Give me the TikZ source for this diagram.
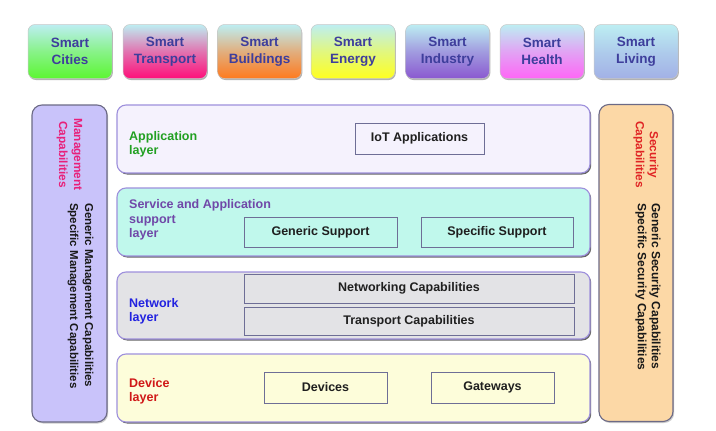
\documentclass[tikz,border=0pt]{standalone}
\usepackage{fontspec}
\setmainfont{Liberation Sans}
\usetikzlibrary{shadows}
\definecolor{topcyan}{HTML}{BDEEF2}
\definecolor{smarttext}{HTML}{3E3E9C}
\definecolor{cgreen}{HTML}{5CF632}
\definecolor{cred}{HTML}{FF0F7A}
\definecolor{corange}{HTML}{FF7A1E}
\definecolor{cyellow}{HTML}{FFFF20}
\definecolor{cpurple}{HTML}{8A58D0}
\definecolor{cpink}{HTML}{FF66F6}
\definecolor{clblue}{HTML}{A2B0E6}
\definecolor{mgmtfill}{HTML}{C9C3FA}
\definecolor{secfill}{HTML}{FCD8A6}
\definecolor{appfill}{HTML}{F5F2FD}
\definecolor{servfill}{HTML}{C0F8EC}
\definecolor{netfill}{HTML}{E3E3E6}
\definecolor{devfill}{HTML}{FDFDDA}
\definecolor{layerborder}{HTML}{9E90DC}
\definecolor{sideborder}{HTML}{6C6A86}
\definecolor{innerborder}{HTML}{6E6E96}
\definecolor{appgreen}{HTML}{22A022}
\definecolor{servpurple}{HTML}{7048A8}
\definecolor{netblue}{HTML}{2222E0}
\definecolor{devred}{HTML}{D01818}
\definecolor{mgmtmagenta}{HTML}{E8207A}
\definecolor{secred}{HTML}{E02424}
\tikzset{
  topbox/.style={rounded corners=7pt, minimum width=84pt, minimum height=54pt,
    draw=black!22, line width=0.5pt, align=center, text=smarttext,
    font=\fontsize{13.5}{17}\selectfont\bfseries,
    drop shadow={shadow xshift=0.8pt, shadow yshift=-1.5pt, opacity=0.3, fill=black}},
  smart/.style={topbox, top color=topcyan, bottom color=#1, middle color=#1!55!topcyan},
  layerbox/.style={rounded corners=9pt, draw=layerborder, line width=1.1pt,
    minimum width=473pt,
    drop shadow={shadow xshift=1.2pt, shadow yshift=-1.5pt, fill=black!75, opacity=0.8}},
  sidebox/.style={rounded corners=10pt, draw=sideborder, line width=1.1pt,
    minimum height=317pt,
    drop shadow={shadow xshift=1.2pt, shadow yshift=-1.5pt, fill=black!40, opacity=0.5}},
  inbox/.style={draw=innerborder, line width=0.8pt, text=black!88,
    font=\fontsize{12.5}{15}\selectfont\bfseries},
  lab/.style={anchor=west, align=left, inner sep=0pt,
    font=\fontsize{12.5}{14.5}\selectfont\bfseries},
  vtext/.style={rotate=-90, inner sep=0pt, font=\fontsize{11.8}{15}\selectfont\bfseries}
}
\begin{document}
\begin{tikzpicture}[x=1pt,y=-1pt]
\useasboundingbox (0,0) rectangle (716,431);
\fill[white] (0,0) rectangle (716,431);
% top application domains
\node[smart=cgreen]  (cities)    at (70,51.5)    {Smart\\Cities};
\node[smart=cred]    (transport) at (165,51.5)   {Smart\\Transport};
\node[smart=corange] (buildings) at (259.5,51.5) {Smart\\Buildings};
\node[smart=cyellow] (energy)    at (353,51.5)   {Smart\\Energy};
\node[smart=cpurple] (industry)  at (447.5,51.5) {Smart\\Industry};
\node[smart=cpink]   (health)    at (542,51.5)   {Smart\\Health};
\node[smart=clblue]  (living)    at (636,51.5)   {Smart\\Living};
% side boxes
\node[sidebox, fill=mgmtfill, minimum width=75pt] (mgmt) at (69.5,263.5) {};
\node[sidebox, fill=secfill, minimum width=74pt] (sec) at (636,263) {};
% layers
\node[layerbox, fill=appfill, minimum height=68pt] (app) at (353.5,139) {};
\node[layerbox, fill=servfill, minimum height=68pt] (serv) at (353.5,222) {};
\node[layerbox, fill=netfill, minimum height=67pt] (net) at (353.5,305.5) {};
\node[layerbox, fill=devfill, minimum height=68pt] (dev) at (353.5,388) {};
% layer labels
\node[lab, text=appgreen] (applab) at (129,144.5) {Application\\layer};
\node[lab, text=servpurple] (servlab) at (129,220) {Service and Application\\support\\layer};
\node[lab, text=netblue] (netlab) at (129,311.5) {Network\\layer};
\node[lab, text=devred] (devlab) at (129,391.5) {Device\\layer};
% inner boxes
\node[inbox, fill=appfill, minimum width=129pt, minimum height=31pt] (iot) at (419.5,138.5) {IoT Applications};
\node[inbox, fill=servfill, minimum width=153pt, minimum height=30pt] (gensup) at (320.5,232) {Generic Support};
\node[inbox, fill=servfill, minimum width=152pt, minimum height=30pt] (specsup) at (497,232) {Specific Support};
\node[inbox, fill=netfill, minimum width=330pt, minimum height=29pt] (netcap) at (409,288.5) {Networking Capabilities};
\node[inbox, fill=netfill, minimum width=330pt, minimum height=28pt] (trcap) at (409,321) {Transport Capabilities};
\node[inbox, fill=devfill, minimum width=123pt, minimum height=31pt] (devices) at (325.5,387.5) {Devices};
\node[inbox, fill=devfill, minimum width=123pt, minimum height=31pt] (gateways) at (492.5,387.5) {Gateways};
% vertical texts
\node[vtext, text=mgmtmagenta, align=center] (mgmttitle) at (69.5,154.5) {Management\\Capabilities};
\node[vtext, anchor=west, align=left, text=black!90, font=\fontsize{11.5}{15}\selectfont\bfseries] (mgmtcaps) at (80.5,203) {Generic Management Capabilities\\Specific Management Capabilities};
\node[vtext, text=secred, align=center, font=\fontsize{11.8}{14}\selectfont\bfseries] (sectitle) at (646,154.5) {Security\\Capabilities};
\node[vtext, anchor=west, align=left, text=black!90, font=\fontsize{12}{14}\selectfont\bfseries] (seccaps) at (648,203) {Generic Security Capabilities\\Specific Security Capabilities};
\end{tikzpicture}
\end{document}
